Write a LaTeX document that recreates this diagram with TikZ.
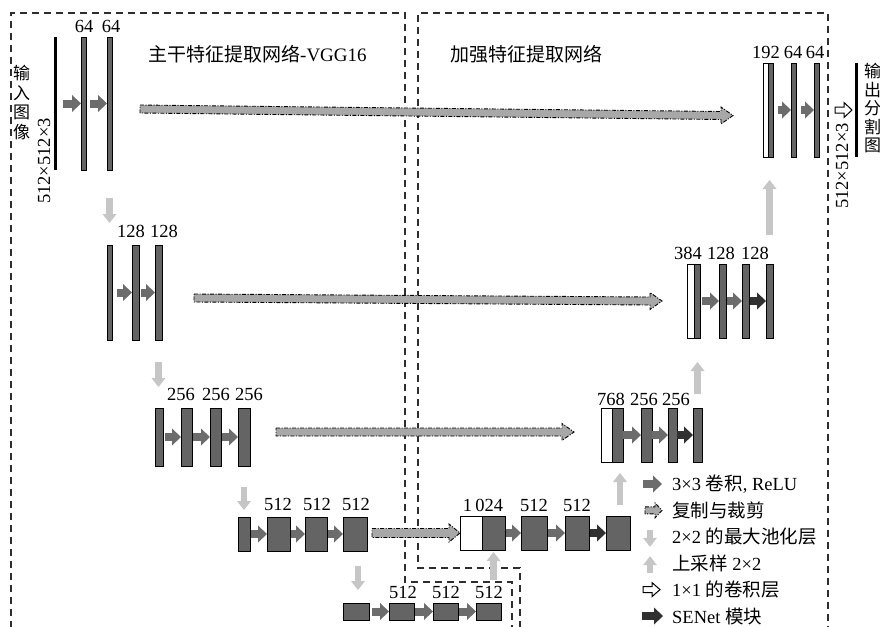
\documentclass[tikz,border=0pt]{standalone}
\usepackage{fontspec}
\setmainfont{Liberation Serif}
\newfontfamily\cjk{Noto Sans CJK SC}
\usetikzlibrary{arrows.meta,calc,fit}
\definecolor{barc}{HTML}{646464}
\definecolor{convc}{HTML}{6C6C6C}
\definecolor{sec}{HTML}{303030}
\definecolor{poolc}{HTML}{C6C6C6}
\definecolor{skipc}{HTML}{A8A8A8}
\definecolor{boxc}{HTML}{2E2E2E}
\tikzset{
  fmap/.style={draw=black, line width=0.8pt, fill=barc, inner sep=0pt, outer sep=0pt},
  fwhite/.style={fmap, fill=white},
  fline/.style={draw=none, fill=black, inner sep=0pt, outer sep=0pt},
  lbl/.style={font=\fontsize{18.5}{20}\selectfont, inner sep=0pt},
  ttl/.style={font=\fontsize{19}{21}\selectfont, inner sep=0pt, anchor=west},
  legtxt/.style={font=\fontsize{18.5}{20}\selectfont, inner sep=0pt, anchor=west},
  vtxt/.style={font=\cjk\fontsize{17}{19.5}\selectfont, inner sep=0pt, align=left, anchor=north west},
  conv/.style={draw=convc, line width=8pt, -{Triangle[length=9pt,width=17pt,line width=0pt]}},
  seblk/.style={draw=sec, line width=8pt, -{Triangle[length=9pt,width=17pt,line width=0pt]}},
  pool/.style={draw=poolc, line width=6.5pt, -{Triangle[length=9pt,width=14pt,line width=0pt]}},
  skipar/.style={fill=skipc, draw=black, line width=0.9pt, dash pattern=on 4pt off 1.5pt on 1pt off 1.5pt},
  onebyone/.style={fill=white, draw=black, line width=1pt, line join=miter},
  box/.style={draw=boxc, line width=1.3pt, dash pattern=on 7pt off 5pt}
}
% #1 style, #2 start, #3 end, #4 shaft half height, #5 head half height, #6 head length
\newcommand\blockarr[6]{%
  \path[#1] ($(#2)+(0,-#4)$) -- ($(#3)+(-#6,-#4)$) -- ($(#3)+(-#6,-#5)$) -- (#3)
    -- ($(#3)+(-#6,#5)$) -- ($(#3)+(-#6,#4)$) -- ($(#2)+(0,#4)$) -- cycle;}
\begin{document}
\begin{tikzpicture}[x=1pt,y=-1pt]
\useasboundingbox (0,0) rectangle (880,626);
\clip (0,0) rectangle (880,626);
\fill[white] (0,0) rectangle (880,626);

% dashed frames
\draw[box] (11,640) -- (11,13) -- (405,13) -- (405,582) -- (512,582) -- (512,640);
\draw[box] (520,640) -- (520,568) -- (418,568) -- (418,13) -- (828,13) -- (828,640);

% titles
\node[ttl] (tt1) at (148,54) {{\cjk 主干特征提取网络}-VGG16};
\node[ttl] (tt2) at (450,54) {\cjk 加强特征提取网络};

% ---------- contracting path ----------
% row 1
\node[fline, fit={(54,37) (56.5,170)}] (in) {};
\node[fmap, fit={(81,37) (86,170)}] (b11) {};
\node[fmap, fit={(107,37) (112,170)}] (b12) {};
\node[lbl] (l11) at (84,26) {64};
\node[lbl] (l12) at (111,26) {64};
\node[vtxt] (intxt) at (13,65) {输\\入\\图\\像};
\node[lbl, rotate=90] (insz) at (44,161) {512×512×3};
\draw[conv, shorten <=6pt] (in.east) -- (b11.west);
\draw[conv, shorten <=4pt] (b11.east) -- (b12.west);

% row 2
\node[fmap, fit={(107,245) (112,340)}] (b21) {};
\node[fmap, fit={(132,245) (139,340)}] (b22) {};
\node[fmap, fit={(155,245) (162,340)}] (b23) {};
\node[lbl] (l22) at (131,231) {128};
\node[lbl] (l23) at (164,231) {128};
\draw[conv, shorten <=5pt] (b21.east) -- (b22.west);
\draw[conv, shorten <=2pt] (b22.east) -- (b23.west);
\draw[pool, shorten <=28pt, shorten >=22pt] (b12.south) -- (b12.south |- b21.north);

% row 3
\node[fmap, fit={(155,408) (163,466)}] (b31) {};
\node[fmap, fit={(181,408) (192,466)}] (b32) {};
\node[fmap, fit={(210,408) (221,466)}] (b33) {};
\node[fmap, fit={(238,408) (250,466)}] (b34) {};
\node[lbl] (l32) at (181,394) {256};
\node[lbl] (l33) at (216,394) {256};
\node[lbl] (l34) at (249,394) {256};
\draw[conv, shorten <=2pt] (b31.east) -- (b32.west);
\draw[conv, shorten <=1pt] (b32.east) -- (b33.west);
\draw[conv, shorten <=1pt] (b33.east) -- (b34.west);
\draw[pool, shorten <=22pt, shorten >=21pt] (b23.south) -- (b23.south |- b31.north);

% row 4
\node[fmap, fit={(238,517) (250,551)}] (b41) {};
\node[fmap, fit={(267,517) (290,551)}] (b42) {};
\node[fmap, fit={(305,517) (327,551)}] (b43) {};
\node[fmap, fit={(343,517) (367,551)}] (b44) {};
\node[lbl] (l42) at (278,504) {512};
\node[lbl] (l43) at (317,504) {512};
\node[lbl] (l44) at (356,504) {512};
\draw[conv, shorten <=1pt] (b41.east) -- (b42.west);
\draw[conv, shorten <=1pt] (b42.east) -- (b43.west);
\draw[conv, shorten <=1pt] (b43.east) -- (b44.west);
\draw[pool, shorten <=21pt, shorten >=7pt] (b34.south) -- (b34.south |- b41.north);

% row 5
\node[fmap, fit={(343,603) (369,620)}] (b51) {};
\node[fmap, fit={(389,603) (414,620)}] (b52) {};
\node[fmap, fit={(433,603) (458,620)}] (b53) {};
\node[fmap, fit={(476,603) (501,620)}] (b54) {};
\node[lbl] (l52) at (403,592) {512};
\node[lbl] (l53) at (446,592) {512};
\node[lbl] (l54) at (489,592) {512};
\draw[conv, shorten <=3pt] (b51.east) -- (b52.west);
\draw[conv, shorten <=1pt] (b52.east) -- (b53.west);
\draw[conv, shorten <=1pt] (b53.east) -- (b54.west);
\draw[pool, shorten <=15pt, shorten >=13pt] ([xshift=3pt]b44.south) -- ([xshift=3pt]b44.south |- b51.north);

% ---------- expanding path ----------
% row 4 right
\node[fwhite, fit={(460,516) (482,550)}] (c41w) {};
\node[fmap, fit={(482,516) (505,550)}] (c41) {};
\node[fmap, fit={(521,516) (547,550)}] (c42) {};
\node[fmap, fit={(565,516) (589,550)}] (c43) {};
\node[fmap, fit={(606,516) (630,550)}] (c44) {};
\node[lbl] (m41) at (483,505) {1\,024};
\node[lbl] (m42) at (534,505) {512};
\node[lbl] (m43) at (577,505) {512};
\draw[conv, shorten <=1pt] (c41.east) -- (c42.west);
\draw[conv, shorten <=1pt] (c42.east) -- (c43.west);
\draw[seblk, shorten <=1pt] (c43.east) -- (c44.west);
\draw[pool, shorten <=23pt, shorten >=2pt] (b54.north -| c41.south) -- (c41.south);

% row 3 right
\node[fwhite, fit={(601,408) (612,462)}] (c31w) {};
\node[fmap, fit={(612,408) (623,462)}] (c31) {};
\node[fmap, fit={(641,408) (652,462)}] (c32) {};
\node[fmap, fit={(668,408) (677,462)}] (c33) {};
\node[fmap, fit={(693,408) (702,462)}] (c34) {};
\node[lbl] (m31) at (611,399) {768};
\node[lbl] (m32) at (644,399) {256};
\node[lbl] (m33) at (676,399) {256};
\draw[conv] (c31.east) -- (c32.west);
\draw[conv] (c32.east) -- (c33.west);
\draw[seblk] (c33.east) -- (c34.west);
\draw[pool, shorten <=11pt, shorten >=11pt] ([xshift=2pt]c44.north) -- ([xshift=2pt]c44.north |- c31.south);

% row 2 right
\node[fwhite, fit={(687,264) (694.5,338)}] (c21w) {};
\node[fmap, fit={(694.5,264) (700,338)}] (c21) {};
\node[fmap, fit={(719,264) (726,338)}] (c22) {};
\node[fmap, fit={(742,264) (749,338)}] (c23) {};
\node[fmap, fit={(766,264) (773,338)}] (c24) {};
\node[lbl] (m21) at (688,253) {384};
\node[lbl] (m22) at (721,253) {128};
\node[lbl] (m23) at (755,253) {128};
\draw[conv, shorten <=2pt] (c21.east) -- (c22.west);
\draw[conv, shorten <=1pt] (c22.east) -- (c23.west);
\draw[seblk, shorten <=1pt] (c23.east) -- (c24.west);
\draw[pool, shorten <=14pt, shorten >=24pt] (c34.north) -- (c34.north |- c21.south);

% row 1 right
\node[fwhite, fit={(763,63) (768,157)}] (c11w) {};
\node[fmap, fit={(768,63) (773,157)}] (c11) {};
\node[fmap, fit={(791,63) (796,157)}] (c12) {};
\node[fmap, fit={(814,63) (819,157)}] (c13) {};
\node[fline, fit={(855,63) (857.5,157)}] (out) {};
\node[lbl] (m11) at (766,52) {192};
\node[lbl] (m12) at (793,52) {64};
\node[lbl] (m13) at (815,52) {64};
\node[vtxt, font=\cjk\fontsize{17}{18.5}\selectfont] (outtxt) at (864,63) {输\\出\\分\\割\\图};
\node[lbl, rotate=90] (outsz) at (842,166) {512×512×3};
\draw[conv, shorten <=5pt] (c11.east) -- (c12.west);
\draw[conv, shorten <=5pt] (c12.east) -- (c13.west);
\draw[pool, shorten <=29pt, shorten >=23pt] (c24.north) -- (c24.north |- c11.south);
\coordinate (o1a) at ($(c13.east)+(16,0)$);
\coordinate (o1b) at ($(out.west)+(-3,0)$);
\blockarr{onebyone}{o1a}{o1b}{3}{7.5}{8}

% ---------- copy and crop ----------
\coordinate (s1a) at ($(b12.east)+(28,5.5)$);
\coordinate (s1b) at ($(c11w.west)+(-30,5.5)$);
\blockarr{skipar}{s1a}{s1b}{4}{8.5}{12}
\coordinate (s2a) at ($(b23.east)+(32,5.5)$);
\coordinate (s2b) at ($(c21w.west)+(-25,0)$);
\blockarr{skipar}{s2a}{s2b}{4}{8.5}{12}
\coordinate (s3a) at ($(b34.east)+(26,-5)$);
\coordinate (s3b) at ($(c31w.west)+(-27,-3)$);
\blockarr{skipar}{s3a}{s3b}{4}{8.5}{12}
\coordinate (s4a) at ($(b44.east)+(5,-1)$);
\coordinate (s4b) at ($(c41w.west)+(0,0)$);
\blockarr{skipar}{s4a}{s4b}{4.5}{9}{11}

% ---------- legend ----------
\node[legtxt] (t1) at (672,484) {3×3 {\cjk 卷积}, ReLU};
\node[legtxt] (t2) at (672,510.4) {\cjk 复制与裁剪};
\node[legtxt] (t3) at (672,536.8) {2×2 {\cjk 的最大池化层}};
\node[legtxt] (t4) at (672,563.2) {{\cjk 上采样} 2×2};
\node[legtxt] (t5) at (672,589.6) {1×1 {\cjk 的卷积层}};
\node[legtxt] (t6) at (672,616) {SENet {\cjk 模块}};
\draw[conv] ($(t1.west)+(-29,0)$) -- ($(t1.west)+(-10,0)$);
\coordinate (l2a) at ($(t2.west)+(-27,0)$);
\coordinate (l2b) at ($(t2.west)+(-10,0)$);
\blockarr{skipar}{l2a}{l2b}{3.5}{7.5}{7}
\draw[pool] ($(t3.west)+(-22,-7)$) -- ($(t3.west)+(-22,10)$);
\draw[pool] ($(t4.west)+(-22,10)$) -- ($(t4.west)+(-22,-7)$);
\coordinate (l5a) at ($(t5.west)+(-29,0)$);
\coordinate (l5b) at ($(t5.west)+(-12,0)$);
\blockarr{onebyone}{l5a}{l5b}{3}{7}{8}
\draw[seblk] ($(t6.west)+(-30,0)$) -- ($(t6.west)+(-9,0)$);
\end{tikzpicture}
\end{document}
